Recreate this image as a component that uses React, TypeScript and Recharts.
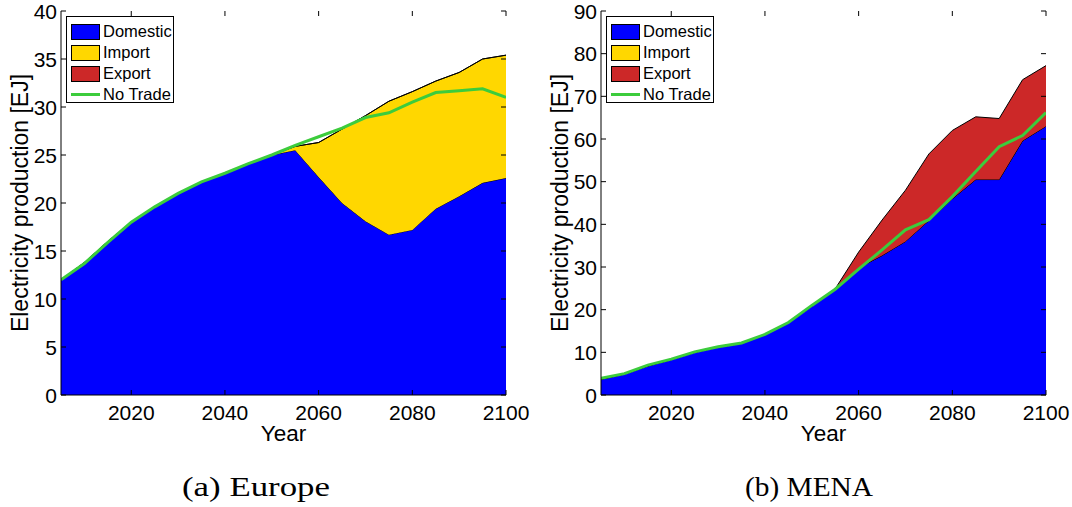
import React from "react";
import {
	Area,
	ComposedChart,
	Line,
	XAxis,
	YAxis,
} from "recharts";

// 5-year steps, 2005..2100
const years = [
	2005, 2010, 2015, 2020, 2025, 2030, 2035, 2040, 2045, 2050, 2055, 2060, 2065,
	2070, 2075, 2080, 2085, 2090, 2095, 2100,
];

// (a) Europe [EJ]
const euDomestic = [
	12.0, 13.8, 16.0, 18.0, 19.6, 21.0, 22.2, 23.1, 24.1, 25.0, 25.5, 22.7, 20.0,
	18.1, 16.7, 17.2, 19.4, 20.7, 22.1, 22.6,
];
const euImport = [
	0, 0, 0, 0, 0, 0, 0, 0, 0, 0, 0.4, 3.6, 7.7, 11.0, 13.9, 14.4, 13.3, 12.9,
	12.9, 12.8,
];
const euExport = [0, 0, 0, 0, 0, 0, 0, 0, 0, 0, 0, 0, 0, 0, 0, 0, 0, 0, 0, 0];
const euNoTrade = [
	12.0, 13.7, 15.9, 18.0, 19.6, 21.0, 22.2, 23.1, 24.1, 25.0, 26.0, 26.9, 27.8,
	28.9, 29.4, 30.5, 31.5, 31.7, 31.9, 31.0,
];

// (b) MENA [EJ]
const meDomestic = [
	3.7, 4.9, 6.8, 8.3, 10.0, 11.2, 12.1, 14.2, 16.9, 20.8, 24.9, 29.8, 32.7, 36.0,
	40.9, 46.0, 50.5, 50.5, 59.6, 63.0,
];
const meImport = [0, 0, 0, 0, 0, 0, 0, 0, 0, 0, 0, 0, 0, 0, 0, 0, 0, 0, 0, 0];
const meExport = [
	0, 0, 0, 0, 0, 0, 0, 0, 0, 0, 0, 3.7, 8.3, 12.0, 15.6, 16.0, 14.7, 14.3, 14.3,
	14.2,
];
const meNoTrade = [
	3.9, 5.0, 7.0, 8.4, 10.1, 11.3, 12.2, 14.2, 17.0, 21.0, 24.8, 29.5, 34.0, 38.7,
	41.1, 46.5, 52.4, 58.2, 60.8, 66.2,
];

const xTicks = [2020, 2040, 2060, 2080, 2100];
const euYTicks = [0, 5, 10, 15, 20, 25, 30, 35, 40];
const meYTicks = [0, 10, 20, 30, 40, 50, 60, 70, 80, 90];

const COLORS = {
	domestic: "#0000ff",
	import: "#ffd700",
	export: "#cc2828",
	noTrade: "#3ccc3c",
};

const legendItems = [
	{ name: "Domestic", color: COLORS.domestic, kind: "area" },
	{ name: "Import", color: COLORS.import, kind: "area" },
	{ name: "Export", color: COLORS.export, kind: "area" },
	{ name: "No Trade", color: COLORS.noTrade, kind: "line" },
];

const captions = ["(a) Europe", "(b) MENA"];

const FONT = "'Liberation Sans', Arial, Helvetica, sans-serif";
const SERIF = "'Liberation Serif', 'Times New Roman', serif";
const CHART_W = 540;
const CHART_H = 460;
const PLOT_TOP = 11;
const PLOT_BOTTOM = 395;
const PLOT_LEFT = 61;
const PLOT_RIGHT = 506;
const TICK_LEN = 5;

function buildRows(
	domestic: number[],
	imp: number[],
	exp: number[],
	noTrade: number[],
) {
	return years.map((year, i) => ({
		year,
		domestic: domestic[i],
		import: imp[i],
		export: exp[i],
		noTrade: noTrade[i],
	}));
}

// bottom axis tick: label + inward tick marks at bottom and top
function XTick(props: any) {
	const { x, payload } = props;
	return (
		<g>
			<line x1={x} x2={x} y1={PLOT_BOTTOM} y2={PLOT_BOTTOM - TICK_LEN} stroke="#000" />
			<line x1={x} x2={x} y1={PLOT_TOP} y2={PLOT_TOP + TICK_LEN} stroke="#000" />
			<text
				x={x}
				y={PLOT_BOTTOM + 25}
				textAnchor="middle"
				fontSize={21}
				fontFamily={FONT}
				fill="#000"
			>
				{payload.value}
			</text>
		</g>
	);
}

// left axis tick: label + inward tick marks at left and right
function YTick(props: any) {
	const { y, payload } = props;
	return (
		<g>
			<line x1={PLOT_LEFT} x2={PLOT_LEFT + TICK_LEN} y1={y} y2={y} stroke="#000" />
			<line x1={PLOT_RIGHT} x2={PLOT_RIGHT - TICK_LEN} y1={y} y2={y} stroke="#000" />
			<text
				x={PLOT_LEFT - 4}
				y={y}
				dy="0.36em"
				textAnchor="end"
				fontSize={21}
				fontFamily={FONT}
				fill="#000"
			>
				{payload.value}
			</text>
		</g>
	);
}

function LegendBox() {
	return (
		<div
			style={{
				position: "absolute",
				left: 66,
				top: 16,
				width: 108,
				height: 87,
				border: "1px solid #000",
				background: "#fff",
				fontFamily: FONT,
				fontSize: 16.5,
				boxSizing: "border-box",
				paddingTop: 4,
			}}
		>
			{legendItems.map((item) => (
				<div
					key={item.name}
					style={{ display: "flex", alignItems: "center", height: 21 }}
				>
					{item.kind === "area" ? (
						<div
							style={{
								marginLeft: 4,
								width: 29,
								height: 16,
								background: item.color,
								border: "1px solid #000",
								boxSizing: "border-box",
							}}
						/>
					) : (
						<div
							style={{
								marginLeft: 4,
								width: 29,
								height: 3,
								background: item.color,
							}}
						/>
					)}
					<span style={{ marginLeft: 3, lineHeight: 1 }}>{item.name}</span>
				</div>
			))}
		</div>
	);
}

function YLabel() {
	return (
		<text
			transform={`translate(28, ${(PLOT_TOP + PLOT_BOTTOM) / 2}) rotate(-90)`}
			textAnchor="middle"
			fontSize={23}
			fontFamily={FONT}
			fill="#000"
		>
			Electricity production [EJ]
		</text>
	);
}

interface PanelProps {
	rows: ReturnType<typeof buildRows>;
	yMax: number;
	yTicks: number[];
	left: number;
}

function Panel({ rows, yMax, yTicks, left }: PanelProps) {
	return (
		<div
			style={{
				position: "absolute",
				left,
				top: 0,
				width: CHART_W,
				height: CHART_H,
			}}
		>
			<ComposedChart
				width={CHART_W}
				height={CHART_H}
				data={rows}
				margin={{ top: PLOT_TOP, right: CHART_W - PLOT_RIGHT, bottom: 25, left: 0 }}
			>
				<Area
					type="linear"
					dataKey="domestic"
					stackId="s"
					fill={COLORS.domestic}
					fillOpacity={1}
					stroke="#000"
					strokeWidth={1}
					isAnimationActive={false}
					dot={false}
					activeDot={false}
				/>
				<Area
					type="linear"
					dataKey="import"
					stackId="s"
					fill={COLORS.import}
					fillOpacity={1}
					stroke="#000"
					strokeWidth={1}
					isAnimationActive={false}
					dot={false}
					activeDot={false}
				/>
				<Area
					type="linear"
					dataKey="export"
					stackId="s"
					fill={COLORS.export}
					fillOpacity={1}
					stroke="#000"
					strokeWidth={1}
					isAnimationActive={false}
					dot={false}
					activeDot={false}
				/>
				<Line
					type="linear"
					dataKey="noTrade"
					stroke={COLORS.noTrade}
					strokeWidth={3}
					dot={false}
					activeDot={false}
					isAnimationActive={false}
				/>
				<XAxis
					dataKey="year"
					type="number"
					domain={[2005, 2100]}
					ticks={xTicks}
					height={40}
					tick={<XTick />}
					tickLine={false}
					axisLine={{ stroke: "#000" }}
					allowDataOverflow
				/>
				<XAxis
					xAxisId="top"
					orientation="top"
					dataKey="year"
					type="number"
					domain={[2005, 2100]}
					height={0}
					tick={false}
					tickLine={false}
					axisLine={{ stroke: "#000" }}
				/>
				<YAxis
					type="number"
					domain={[0, yMax]}
					ticks={yTicks}
					width={PLOT_LEFT}
					tick={<YTick />}
					tickLine={false}
					axisLine={{ stroke: "#000" }}
					allowDataOverflow
					label={<YLabel />}
				/>
				<YAxis
					yAxisId="right"
					orientation="right"
					type="number"
					domain={[0, yMax]}
					width={0}
					tick={false}
					tickLine={false}
					axisLine={{ stroke: "#000" }}
				/>
			</ComposedChart>
			<LegendBox />
			<div
				style={{
					position: "absolute",
					left: PLOT_LEFT,
					width: PLOT_RIGHT - PLOT_LEFT,
					top: 422,
					textAlign: "center",
					fontFamily: FONT,
					fontSize: 22.5,
					lineHeight: "24px",
				}}
			>
				Year
			</div>
		</div>
	);
}

export default function App() {
	const euRows = buildRows(euDomestic, euImport, euExport, euNoTrade);
	const meRows = buildRows(meDomestic, meImport, meExport, meNoTrade);
	return (
		<div
			style={{
				position: "absolute",
				left: 0,
				top: 0,
				width: 1072,
				height: 507,
				background: "#fff",
				overflow: "hidden",
			}}
		>
			<Panel rows={euRows} yMax={40} yTicks={euYTicks} left={0} />
			<Panel rows={meRows} yMax={90} yTicks={meYTicks} left={540} />
			<svg
				width={1072}
				height={47}
				style={{ position: "absolute", left: 0, top: 460 }}
			>
				<text
					x={256}
					y={36}
					textAnchor="middle"
					fontFamily={SERIF}
					fontSize={28}
					textLength={148}
					lengthAdjust="spacingAndGlyphs"
					fill="#000"
				>
					{captions[0]}
				</text>
				<text
					x={809}
					y={36}
					textAnchor="middle"
					fontFamily={SERIF}
					fontSize={28}
					textLength={128}
					lengthAdjust="spacingAndGlyphs"
					fill="#000"
				>
					{captions[1]}
				</text>
			</svg>
		</div>
	);
}
